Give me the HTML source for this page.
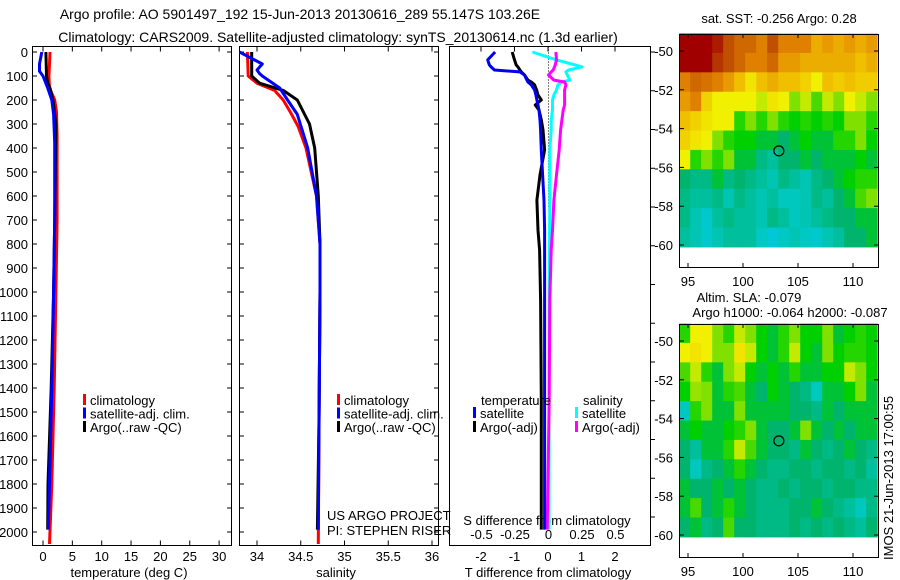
<!DOCTYPE html>
<html><head><meta charset="utf-8"><style>
body{margin:0;background:#fff}
svg{display:block;font-family:"Liberation Sans",sans-serif}
</style></head><body>
<svg id="c" width="900" height="580" viewBox="0 0 900 580" xmlns="http://www.w3.org/2000/svg">
<text x="300" y="19" font-size="14" text-anchor="middle">Argo profile: AO 5901497_192 15-Jun-2013 20130616_289 55.147S 103.26E</text>
<text x="338" y="42" font-size="14" text-anchor="middle">Climatology: CARS2009. Satellite-adjusted climatology: synTS_20130614.nc (1.3d earlier)</text>
<g id="g"></g>
</svg>
<script>
// ---- data ----
const tempDepthClim=[0,50,100,150,200,250,350,700,1000,1400,1800,2050];
const tempClim=[1.2,1.1,1.0,1.1,2.0,2.3,2.4,2.4,2.2,1.9,1.5,1.1];
const tempDepthSat=[0,50,80,100,150,200,260,380,700,1000,1400,1800,1990];
const tempSat=[-0.2,-0.6,-0.6,0.0,0.8,1.5,1.8,2.0,2.0,1.8,1.5,1.1,0.9];
const tempDepthArgo=[0,100,130,150,200,300,700,1000,1400,1800,1990];
const tempArgo=[0.5,0.6,0.8,1.2,1.7,2.2,2.0,1.8,1.4,0.85,0.8];
const salDepthClim=[0,100,130,160,200,250,310,400,600,800,1000,1500,2050];
const salClim=[33.89,33.9,34.0,34.2,34.3,34.38,34.47,34.56,34.68,34.72,34.72,34.71,34.70];
const salDepthSat=[0,50,75,90,100,150,200,260,400,600,800,1000,1500,1990];
const salSat=[33.8,34.06,34.0,34.03,34.06,34.26,34.35,34.46,34.58,34.68,34.72,34.72,34.71,34.70];
const salDepthArgo=[0,100,130,160,200,300,400,600,800,1000,1500,1990];
const salArgo=[33.94,33.94,34.03,34.3,34.46,34.6,34.66,34.7,34.72,34.72,34.71,34.69];
const dDepth=[0,33,54,62,75,83,96,117,125,137,158,179,200,221,242,283,325,408,512,617,742,825,1033,1450,1990];
const dTsat=[-1.58,-1.8,-1.75,-1.7,-1.6,-0.84,-0.7,-0.63,-0.6,-0.5,-0.4,-0.36,-0.33,-0.3,-0.27,-0.24,-0.22,-0.2,-0.16,-0.12,-0.1,-0.1,-0.1,-0.1,-0.1];
const dTargo=[-1.07,-1.0,-0.95,-0.9,-0.84,-0.8,-0.7,-0.6,-0.5,-0.4,-0.34,-0.3,-0.2,-0.38,-0.27,-0.2,-0.15,-0.1,-0.24,-0.33,-0.3,-0.25,-0.22,-0.2,-0.2];
const dSsat=[-0.12,0.06,0.2,0.25,0.15,0.13,0.14,0.16,0.1,0.07,0.06,0.04,0.03,0.03,0.03,0.02,0.02,0.01,0.01,0.01,0.008,0.006,0.005,0.004,0.004];
const dSargo=[0.055,0.06,0.05,0.045,0.035,0.02,0.0,0.04,0.12,0.13,0.12,0.12,0.12,0.12,0.11,0.1,0.09,0.08,0.06,0.04,0.03,0.02,0.01,0.005,-0.01];
const depthTicks=[0,100,200,300,400,500,600,700,800,900,1000,1100,1200,1300,1400,1500,1600,1700,1800,1900,2000];
const tempTicks=[0,5,10,15,20,25,30];
const salTicks=[34,34.5,35,35.5,36];
const salTickLabels=["34","34.5","35","35.5","36"];
const dTTicks=[-2,-1,0,1,2];
const dSTicks=[-0.5,-0.25,0,0.25,0.5];
const latTicks=[-50,-52,-54,-56,-58,-60];
const lonTicks=[95,100,105,110];
const sstGrid=[
[1,1,1,.95,.85,.8,.8,.75,.85,.75,.75,.75,.7,.72,.7,.72,.7,.72],
[1,1,1,.9,.85,.8,.75,.75,.8,.72,.72,.7,.7,.7,.7,.7,.68,.7],
[.75,.8,.78,.75,.72,.68,.62,.68,.7,.68,.68,.65,.6,.68,.66,.68,.66,.66],
[.72,.75,.65,.6,.6,.6,.6,.58,.62,.6,.55,.58,.52,.58,.55,.6,.58,.55],
[.68,.65,.62,.6,.6,.5,.55,.5,.55,.5,.48,.5,.48,.5,.48,.55,.55,.5],
[.65,.62,.6,.55,.5,.48,.48,.45,.45,.42,.45,.48,.45,.45,.5,.5,.55,.48],
[.6,.5,.55,.5,.55,.45,.45,.4,.38,.42,.42,.45,.42,.45,.45,.45,.48,.45],
[.42,.4,.4,.45,.4,.42,.4,.38,.36,.4,.38,.36,.4,.42,.45,.48,.5,.5],
[.4,.38,.38,.4,.36,.4,.38,.36,.38,.35,.35,.36,.4,.38,.42,.45,.52,.55],
[.4,.36,.32,.38,.4,.38,.38,.36,.4,.38,.35,.36,.38,.4,.42,.42,.45,.45],
[.38,.36,.32,.36,.38,.38,.38,.34,.3,.34,.36,.34,.32,.36,.38,.42,.42,.45]];
const slaGrid=[
[.5,.6,.6,.55,.5,.58,.55,.48,.45,.5,.55,.48,.48,.55,.45,.48,.5,.48],
[.6,.62,.6,.55,.55,.62,.58,.48,.45,.5,.58,.48,.45,.55,.48,.5,.5,.48],
[.52,.58,.5,.45,.55,.58,.48,.45,.48,.45,.5,.45,.45,.48,.48,.58,.55,.48],
[.48,.56,.55,.45,.5,.52,.45,.42,.48,.45,.42,.4,.35,.45,.45,.48,.55,.45],
[.35,.5,.55,.45,.45,.55,.45,.45,.45,.45,.42,.42,.4,.45,.42,.45,.45,.45],
[.45,.48,.45,.45,.48,.5,.55,.45,.42,.42,.45,.55,.45,.42,.45,.42,.45,.45],
[.42,.38,.45,.45,.5,.58,.52,.45,.42,.42,.4,.45,.42,.4,.42,.45,.42,.4],
[.42,.35,.4,.42,.45,.5,.45,.42,.4,.4,.42,.42,.4,.42,.42,.4,.42,.38],
[.45,.42,.42,.45,.42,.45,.42,.4,.4,.42,.4,.42,.42,.4,.42,.42,.4,.4],
[.45,.52,.42,.45,.5,.45,.42,.4,.4,.4,.42,.42,.45,.42,.4,.38,.35,.4],
[.42,.45,.4,.42,.52,.42,.42,.4,.4,.4,.42,.4,.42,.4,.42,.4,.38,.42]];
const floatLon=103.26, floatLat=-55.147;

// ---- scales ----
const yD=d=>52+d*0.24;
const xT=v=>43+v*5.87;
const xS=v=>257+(v-34)*87.5;
const xDT=v=>548+v*33.5;
const xDS=v=>548.5+v*134;
const NS="http://www.w3.org/2000/svg";
const G=document.getElementById('g');
function mk(t,a,txt){const e=document.createElementNS(NS,t);for(const k in a)e.setAttribute(k,a[k]);if(txt!==undefined)e.textContent=txt;G.appendChild(e);return e;}
function line(x1,y1,x2,y2,nm){const e=mk('line',{x1,y1,x2,y2,stroke:'#000','stroke-width':1});

return e;}
function txt(x,y,s,nm,anc,fs){const e=mk('text',{x,y,'font-size':fs||13,'text-anchor':anc||'start'},s);

return e;}
function frame(x,y,w,h,nm){const e=mk('rect',{x,y,width:w,height:h,fill:'none',stroke:'#000','stroke-width':1});

}
function series(depths,vals,xf,col,nm){const p=depths.map((d,i)=>xf(vals[i]).toFixed(1)+','+yD(d).toFixed(1)).join(' ');
const e=mk('polyline',{points:p,fill:'none',stroke:col,'stroke-width':3,'stroke-linejoin':'round'});

}

const pTop=46.5,pBot=545.5;
frame(32.5,pTop,199,pBot-pTop,'temperature-panel');
frame(239.5,pTop,199,pBot-pTop,'salinity-panel');
frame(449.5,pTop,201,pBot-pTop,'difference-panel');
depthTicks.forEach(d=>{const y=yD(d);
line(32,y,37,y,'depth-tick');line(227,y,232,y,'depth-tick');
line(239,y,244,y,'depth-tick');line(434,y,439,y,'depth-tick');
txt(28,y+5,String(d),'depth-tick-label','end');});
for(let y=52;y<545;y+=38.75){line(650,y,655,y,'diff-right-tick');}
tempTicks.forEach(v=>{const x=xT(v);line(x,pTop,x,pTop+5,'temp-tick');line(x,pBot-5,x,pBot,'temp-tick');
txt(x,561,String(v),'temp-tick-label','middle');});
salTicks.forEach((v,i)=>{const x=xS(v);line(x,pTop,x,pTop+5,'sal-tick');line(x,pBot-5,x,pBot,'sal-tick');
txt(x,561,salTickLabels[i],'sal-tick-label','middle');});
dTTicks.forEach(v=>{const x=xDT(v);line(x,pTop,x,pTop+5,'dT-tick');txt(x,561,String(v),'dT-tick-label','middle');});
dSTicks.forEach(v=>{const x=xDS(v);txt(x,539,String(v),'dS-tick-label','middle');});
txt(129,577,'temperature (deg C)','x-axis-title-temperature','middle');
txt(336,577,'salinity','x-axis-title-salinity','middle');
txt(548,577,'T difference from climatology','x-axis-title-T-diff','middle');
txt(547,525,'S difference from climatology','x-axis-title-S-diff','middle');
const z=mk('line',{x1:548.5,y1:pTop,x2:548.5,y2:yD(650),stroke:'#000','stroke-width':1,'stroke-dasharray':'1,2'});


series(tempDepthClim,tempClim,xT,'#f00','temp-climatology-line');
series(tempDepthArgo,tempArgo,xT,'#000','temp-argo-line');
series(tempDepthSat,tempSat,xT,'#00f','temp-satellite-line');
series(salDepthClim,salClim,xS,'#f00','sal-climatology-line');
series(salDepthArgo,salArgo,xS,'#000','sal-argo-line');
series(salDepthSat,salSat,xS,'#00f','sal-satellite-line');
series(dDepth,dSsat,xDS,'#00ffff','dS-satellite-line');
series(dDepth,dSargo,xDS,'#ff00ff','dS-argo-line');
series(dDepth,dTargo,xDT,'#000','dT-argo-line');
series(dDepth,dTsat,xDT,'#0000ee','dT-satellite-line');
function leg(x,y,col,s,nm){const r=mk('rect',{x:x,y:y-6,width:3,height:11,fill:col});


txt(x+7,y+5,s,nm,'start',13);}
[['#f00','climatology'],['#00f','satellite-adj. clim.'],['#000','Argo(..raw -QC)']].forEach((l,i)=>{leg(83,400+i*13.5,l[0],l[1],'legend-entry');leg(337,400+i*13.5,l[0],l[1],'legend-entry');});
txt(481,405,'temperature','legend-header-temperature');
txt(583,405,'salinity','legend-header-salinity');
leg(473,413,'#00f','satellite','legend-entry');leg(473,427,'#000','Argo(-adj)','legend-entry');
leg(575,413,'#00ffff','satellite','legend-entry');leg(575,427,'#ff00ff','Argo(-adj)','legend-entry');
txt(327,520,'US ARGO PROJECT','project-label');
txt(327,535,'PI: STEPHEN RISER','pi-label');

const stops=[[0.25,[0,200,240]],[0.35,[0,200,190]],[0.42,[0,180,110]],[0.48,[0,208,0]],[0.55,[128,224,0]],[0.6,[240,240,0]],[0.68,[240,192,0]],[0.75,[224,128,0]],[0.85,[192,80,0]],[1,[160,0,0]]];
function cmap(v){if(v<=stops[0][0])return stops[0][1];for(let i=1;i<stops.length;i++){if(v<=stops[i][0]){const a=stops[i-1],b=stops[i],t=(v-a[0])/(b[0]-a[0]);return a[1].map((c,k)=>Math.round(c+(b[1][k]-c)*t));}}return stops[stops.length-1][1];}
function drawMap(y0,grid,nm){
 const xL=v=>688+(v-95)*11, yL=v=>y0+17+(-50-v)*19.4;
 const lon0=94.2,lat0=-49.1;
 grid.forEach((row,r)=>row.forEach((v,c)=>{const x1=xL(lon0+c),x2=xL(lon0+c+1),y1=yL(lat0-r),y2=yL(lat0-r-1);
  const col=cmap(v);const e=mk('rect',{x:x1,y:y1,width:Math.min(x2,878)-x1+0.5,height:y2-y1+0.5,fill:'rgb('+col.join(',')+')'});
  
  }));
 frame(679.5,y0+0.5,199,233,nm+'-frame');
 latTicks.forEach(v=>{const y=yL(v);line(679,y,684,y,'lat-tick');line(874,y,879,y,'lat-tick');txt(673,y+5,String(v),'lat-tick-label','end');});
 lonTicks.forEach(v=>{const x=xL(v);line(x,y0,x,y0+4,'lon-tick');line(x,y0+229,x,y0+233,'lon-tick');txt(x,y0+252,String(v),'lon-tick-label','middle');});
 const c=mk('circle',{cx:xL(floatLon),cy:yL(floatLat),r:5,fill:'none',stroke:'#000','stroke-width':1.2});
 
 
}
drawMap(34,sstGrid,'sst-map');
drawMap(324,slaGrid,'sla-map');
txt(779,23,'sat. SST: -0.256 Argo: 0.28','sst-map-title','middle');
txt(749,302,'Altim. SLA: -0.079','sla-map-title','middle');
txt(790,317,'Argo h1000: -0.064 h2000: -0.087','sla-map-subtitle','middle');
const im=txt(0,0,'IMOS 21-Jun-2013 17:00:55','imos-timestamp','start',13);
im.setAttribute('transform','translate(893,560) rotate(-90)');
</script>
</body></html>
